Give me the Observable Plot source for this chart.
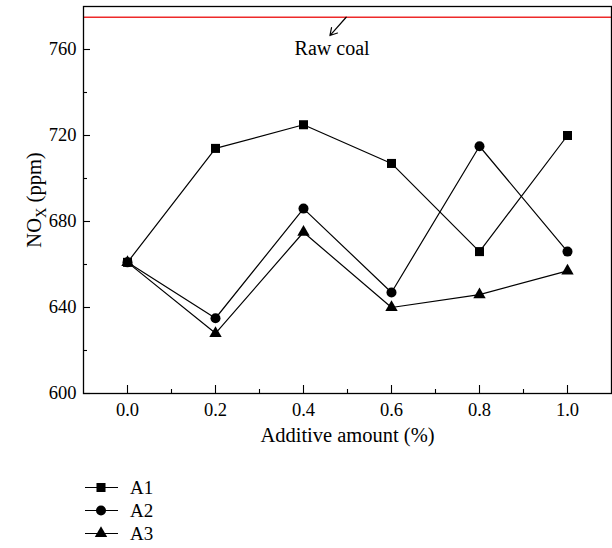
<!DOCTYPE html>
<html><head><meta charset="utf-8">
<script src="https://cdn.jsdelivr.net/npm/d3@7"></script>
<script src="https://cdn.jsdelivr.net/npm/@observablehq/plot@0.6"></script>
<style>
body{margin:0;background:#fff;font-family:"Liberation Serif",serif;}
#legend{padding-top:16px;}
.row{display:flex;align-items:center;height:23px;margin-left:80px;font-size:19px;color:#000;}
.row svg{display:block;}
</style></head><body>
<div id="chart"></div><div id="legend"></div>
<script>
const additive = [0.0, 0.2, 0.4, 0.6, 0.8, 1.0];
const a1 = [661, 714, 725, 707, 666, 720];
const a2 = [661, 635, 686, 647, 715, 666];
const a3 = [661, 628, 675, 640, 646, 657];
const seriesNames = ["A1", "A2", "A3"];
const seriesSymbols = ["square", "circle", "triangle"];
const rawCoal = [775];
const rawCoalLabel = ["Raw coal"];
const labelPos = [{x: 0.465, y: 760.5}];
const arrowPos = [{x1: 0.497, y1: 775, x2: 0.46, y2: 766.5}];
const xMajorTicks = [0.0, 0.2, 0.4, 0.6, 0.8, 1.0];
const xMinorTicks = [0.1, 0.3, 0.5, 0.7, 0.9];
const yMajorTicks = [600, 640, 680, 720, 760];
const yMinorTicks = [620, 660, 700, 740];

const seriesValues = [a1, a2, a3];
const rows = seriesNames.flatMap((s, i) => additive.map((x, j) => ({series: s, x, y: seriesValues[i][j]})));

const W = 612, H = 460, mt = 6, mr = 1, mb = 67, ml = 83;
const fw = W - ml - mr, fh = H - mt - mb;
const rSizes = {A1: 5.1, A2: 5, A3: 4.6};

const chart = Plot.plot({
  width: W, height: H,
  marginTop: mt, marginRight: mr, marginBottom: mb, marginLeft: ml,
  style: {fontFamily: '"Liberation Serif", serif', fontSize: "18px", color: "#000", background: "#fff"},
  x: {domain: [-0.1, 1.1]},
  y: {domain: [600, 780]},
  symbol: {domain: seriesNames, range: seriesSymbols},
  marks: [
    Plot.ruleY(rawCoal, {stroke: "#ee2a2a", strokeWidth: 1.5}),
    Plot.line(rows, {x: "x", y: "y", z: "series", stroke: "#000", strokeWidth: 1.2}),
    ...seriesNames.map(s => Plot.dot(rows.filter(d => d.series === s), {x: "x", y: "y", symbol: "series", fill: "#000", stroke: "none", r: rSizes[s]})),
    Plot.arrow(arrowPos, {x1: "x1", y1: "y1", x2: "x2", y2: "y2", stroke: "#000", strokeWidth: 1.2, headLength: 10}),
    Plot.text(labelPos, {x: "x", y: "y", text: () => rawCoalLabel[0], fontSize: 20, fill: "#000"}),
    Plot.ruleX(xMajorTicks, {insetTop: fh - 8, stroke: "#000", strokeWidth: 1.1}),
    Plot.ruleX(xMinorTicks, {insetTop: fh - 4, stroke: "#000", strokeWidth: 1.1}),
    Plot.ruleY(yMajorTicks, {insetRight: fw - 7, stroke: "#000", strokeWidth: 1.1}),
    Plot.ruleY(yMinorTicks, {insetRight: fw - 4, stroke: "#000", strokeWidth: 1.1}),
    Plot.axisX(xMajorTicks, {tickSize: 0, tickPadding: 9, tickFormat: d3.format(".1f"), fontSize: 18.5, fill: "#000",
      label: "Additive amount (%)", labelAnchor: "center", labelOffset: 48, labelArrow: "none"}),
    Plot.axisY(yMajorTicks, {tickSize: 0, tickPadding: 7, fontSize: 18.5, fill: "#000",
      label: "NOX (ppm)", labelAnchor: "center", labelOffset: 57, labelArrow: "none"}),
    Plot.frame({stroke: "#000", strokeWidth: 1.3})
  ]
});
document.getElementById("chart").appendChild(chart);

// label sizes and subscript X in y label
chart.querySelectorAll("text").forEach(t => {
  const s = t.textContent.trim();
  if (s === "NOX (ppm)") {
    t.setAttribute("font-size", "20.5");
    t.innerHTML = 'NO<tspan dy="5" font-size="14.5">X</tspan><tspan dy="-5"> (ppm)</tspan>';
  } else if (s === "Additive amount (%)") {
    t.setAttribute("font-size", "20.5");
  }
});

// legend
const legend = d3.select("#legend");
seriesNames.forEach((s, i) => {
  const row = legend.append("div").attr("class", "row");
  const svg = row.append("svg").attr("width", 50).attr("height", 23);
  svg.append("line").attr("x1", 5).attr("x2", 38).attr("y1", 11.5).attr("y2", 11.5).attr("stroke", "#000").attr("stroke-width", 1.2);
  const symType = [d3.symbolSquare, d3.symbolCircle, d3.symbolTriangle][i];
  const r = rSizes[s];
  svg.append("path").attr("transform", "translate(21,11.5)")
    .attr("d", d3.symbol(symType, r * r * Math.PI)()).attr("fill", "#000");
  row.append("span").text(s);
});
</script>
</body></html>
